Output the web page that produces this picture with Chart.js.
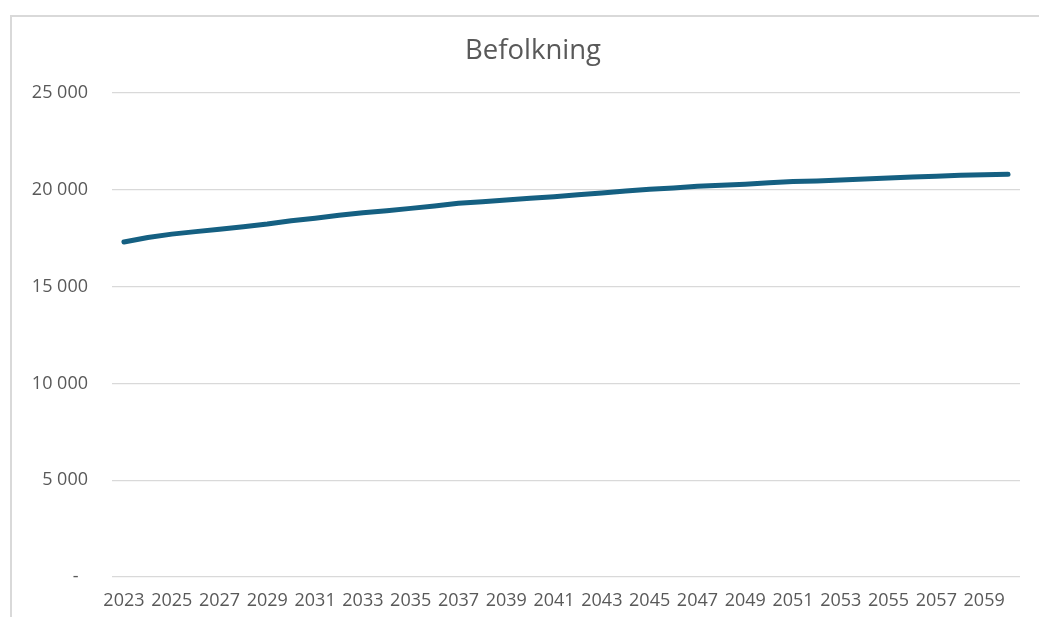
<!DOCTYPE html>
<html>
<head>
<meta charset="utf-8">
<script src="https://cdn.jsdelivr.net/npm/chart.js@4"></script>
<style>
  html, body { margin: 0; padding: 0; background: #fff; overflow: hidden; }
  #wrap { position: absolute; left: 0; top: 0; width: 1039px; height: 617px; }
  #frame {
    position: absolute; left: 10px; top: 15px; width: 1100px; height: 700px;
    border-left: 2px solid #d9d9d9; border-top: 2px solid #d9d9d9;
    pointer-events: none;
  }
</style>
</head>
<body>
<div id="wrap"><canvas id="myChart"></canvas></div>
<div id="frame"></div>
<script>
// years 2023-2060
const years = [
  '2023', '2024', '2025', '2026', '2027', '2028', '2029', '2030', '2031', '2032',
  '2033', '2034', '2035', '2036', '2037', '2038', '2039', '2040', '2041', '2042',
  '2043', '2044', '2045', '2046', '2047', '2048', '2049', '2050', '2051', '2052',
  '2053', '2054', '2055', '2056', '2057', '2058', '2059', '2060'
];

// population
const population = [
  17300, 17540, 17710, 17840, 17960, 18090, 18230, 18400, 18530, 18680,
  18820, 18920, 19040, 19160, 19300, 19385, 19470, 19560, 19645, 19740,
  19835, 19935, 20025, 20095, 20180, 20230, 20285, 20365, 20430, 20455,
  20505, 20555, 20610, 20660, 20700, 20750, 20780, 20800
];

const yTicks = [0, 5000, 10000, 15000, 20000, 25000];

const textColor = '#595959';
const gridColor = '#d9d9d9';
const lineColor = '#156082';

function formatTick(v) {
  if (v === 0) return '-  ';
  return String(v).replace(/\B(?=(\d{3})+(?!\d))/g, ' ');
}

// the original frame is cut on the right, so its title sits right of canvas centre
const shiftTitle = {
  id: 'shiftTitle',
  afterLayout(chart) {
    if (chart.titleBlock) chart.titleBlock.left = 46;
  }
};

const ctx = document.getElementById('myChart');

const myChart = new Chart(ctx, {
  type: 'line',
  data: {
    labels: years,
    datasets: [{
      label: 'Befolkning',
      data: population,
      borderColor: lineColor,
      borderWidth: 5,
      borderCapStyle: 'round',
      borderJoinStyle: 'round',
      pointRadius: 0,
      tension: 0,
      fill: false
    }]
  },
  plugins: [shiftTitle],
  options: {
    responsive: true,
    maintainAspectRatio: false,
    animation: false,
    layout: { padding: { left: 0, right: 19, top: 35, bottom: 0 } },
    plugins: {
      legend: { display: false },
      tooltip: { enabled: false },
      title: {
        display: true,
        text: 'Befolkning',
        color: textColor,
        font: { family: 'Open Sans', size: 27.5, weight: 'normal' },
        padding: { top: 0, bottom: 25 }
      }
    },
    scales: {
      x: {
        offset: true,
        grid: { display: false, drawTicks: false },
        border: { display: false },
        ticks: {
          autoSkip: false,
          maxRotation: 0,
          minRotation: 0,
          padding: 13,
          color: textColor,
          font: { family: 'Open Sans', size: 18 },
          callback: function (value, index) {
            return index % 2 === 0 ? this.getLabelForValue(value) : '';
          }
        },
        afterFit: scale => { scale.height = 40; }
      },
      y: {
        min: 0,
        max: 25000,
        afterBuildTicks: scale => { scale.ticks = yTicks.map(v => ({ value: v })); },
        grid: { color: gridColor, lineWidth: 1.3, drawTicks: false },
        border: { display: false },
        ticks: {
          padding: 24,
          color: textColor,
          font: { family: 'Open Sans', size: 18 },
          callback: formatTick
        },
        afterFit: scale => { scale.width = 112; }
      }
    }
  }
});
</script>
</body>
</html>
